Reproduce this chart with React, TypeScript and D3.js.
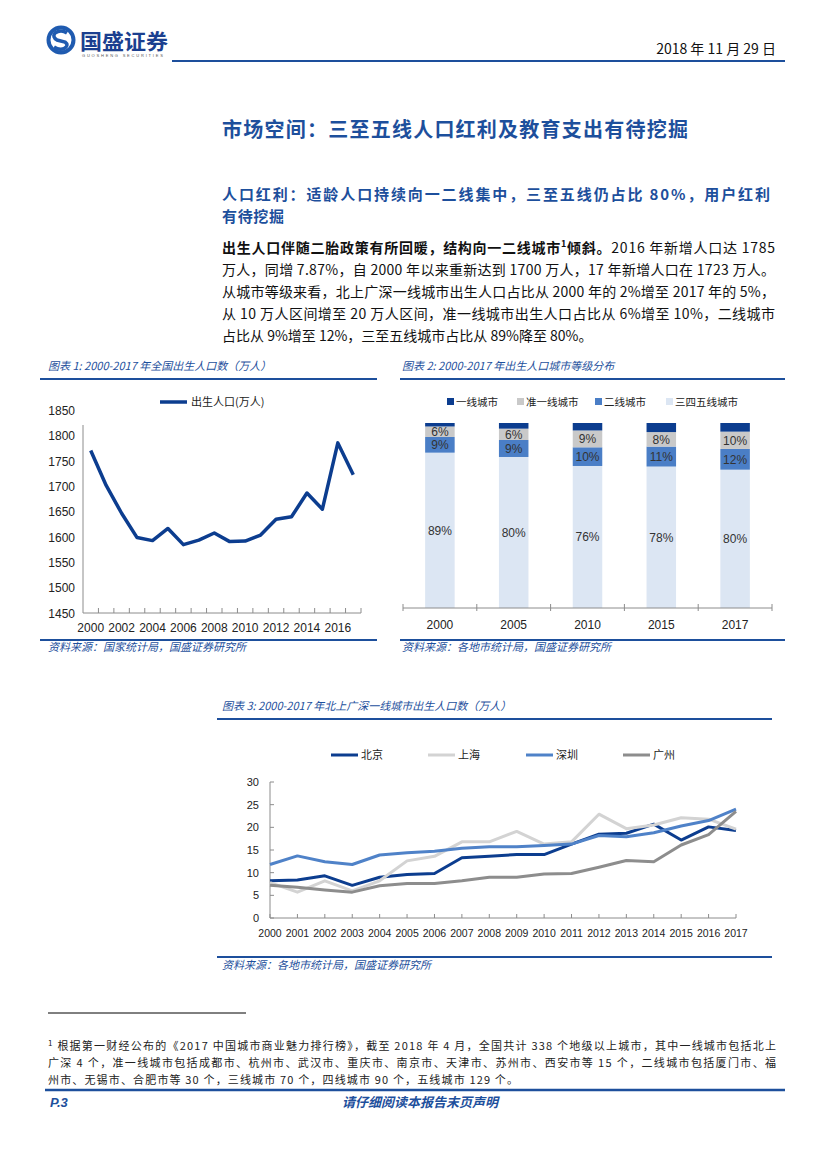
import * as d3 from 'd3';

// ---- data ----
const years = ['2000', '2001', '2002', '2003', '2004', '2005', '2006', '2007', '2008', '2009', '2010', '2011', '2012', '2013', '2014', '2015', '2016', '2017'];
const births = [1771, 1702, 1647, 1599, 1593, 1617, 1585, 1594, 1608, 1591, 1592, 1604, 1635, 1640, 1687, 1655, 1786, 1723];
const birthTicks = [1450, 1500, 1550, 1600, 1650, 1700, 1750, 1800, 1850];

const tierYears = ['2000', '2005', '2010', '2015', '2017'];
const tier1 = [2, 3, 4, 5, 5];
const tierQuasi = [6, 6, 9, 8, 10];
const tier2 = [9, 9, 10, 11, 12];
const tier345 = [89, 80, 76, 78, 80];
const tierNames = ['一线城市', '准一线城市', '二线城市', '三四五线城市'];

const beijing = [8.2, 8.4, 9.3, 7.2, 9.0, 9.6, 9.8, 13.3, 13.6, 14.0, 14.0, 16.3, 18.5, 18.7, 20.7, 17.2, 20.1, 19.3];
const shanghai = [7.8, 5.7, 8.2, 6.0, 8.2, 12.6, 13.6, 16.8, 16.8, 19.1, 16.3, 16.8, 22.9, 19.7, 20.5, 22.1, 21.8, 19.6];
const shenzhen = [11.8, 13.7, 12.4, 11.8, 13.9, 14.4, 14.7, 15.4, 15.7, 15.7, 16.0, 16.3, 18.2, 17.9, 18.8, 20.3, 21.5, 24.0];
const guangzhou = [7.2, 6.8, 6.2, 5.7, 7.1, 7.6, 7.6, 8.2, 9.0, 9.0, 9.7, 9.8, 11.2, 12.7, 12.4, 16.1, 18.4, 23.5];
const cityNames = ['北京', '上海', '深圳', '广州'];
const cityTicks = [0, 5, 10, 15, 20, 25, 30];

// ---- styles ----
const FONT = '"Liberation Sans", Arial, "Noto Sans CJK SC", sans-serif';
const CJK = '"Noto Sans CJK SC", "Liberation Sans", sans-serif';
const BLUE = '#1d4f9c';
const NAVY = '#0c3d8f';
const AXIS = '#8c8c8c';
const tierColors = ['#0c3d8f', '#c9c9c9', '#4a7ec6', '#dce6f3'];
const cityColors = ['#0c3d8f', '#d3d3d3', '#4f82c8', '#8d8d8d'];

function BirthChart() {
  const x = d3.scaleBand<string>().domain(years).range([83, 361]);
  const y = d3.scaleLinear().domain([1450, 1850]).range([613, 410.5]);
  const cx = (i: number) => x(years[i])! + x.bandwidth() / 2;
  const path = d3.line<number>().x((_, i) => cx(i)).y(d => y(d))(births)!;
  return (
    <g>
      <text x={48} y={370} fill={BLUE} fontSize={11} fontStyle="italic" fontFamily={CJK}>图表 1:  2000-2017 年全国出生人口数（万人）</text>
      <line x1={40} x2={377} y1={379} y2={379} stroke={BLUE} strokeWidth={2} />
      <line x1={160} x2={187} y1={402} y2={402} stroke={NAVY} strokeWidth={3.5} />
      <text x={191} y={406} fontSize={11} fontFamily={CJK} fill="#222">出生人口(万人)</text>
      {birthTicks.map(t => (
        <text key={t} x={75} y={y(t) + 4.5} textAnchor="end" fontSize={12} fontFamily={FONT} fill="#222">{t}</text>
      ))}
      <line x1={83} x2={83} y1={425} y2={613} stroke={AXIS} />
      <line x1={83} x2={361} y1={613} y2={613} stroke={AXIS} />
      {years.map((_, i) => (
        <line key={i} x1={83 + (i + 1) * x.step()} x2={83 + (i + 1) * x.step()} y1={613} y2={608} stroke={AXIS} />
      ))}
      {years.map((yr, i) => i % 2 === 0 ? (
        <text key={yr} x={cx(i)} y={632} textAnchor="middle" fontSize={12} fontFamily={FONT} fill="#222">{yr}</text>
      ) : null)}
      <path d={path} fill="none" stroke={NAVY} strokeWidth={3.5} strokeLinejoin="round" />
      <line x1={40} x2={377} y1={640} y2={640} stroke={BLUE} strokeWidth={2} />
      <text x={48} y={651} fill={BLUE} fontSize={11} fontStyle="italic" fontFamily={CJK}>资料来源：国家统计局，国盛证券研究所</text>
    </g>
  );
}

function TierChart() {
  const rows = tierYears.map((yr, i) => ({ year: yr, t345: tier345[i], t2: tier2[i], tq: tierQuasi[i], t1: tier1[i] }));
  const keys = ['t345', 't2', 'tq', 't1'];
  const stack = d3.stack<any>().keys(keys).offset(d3.stackOffsetExpand)(rows);
  const x = d3.scaleBand<string>().domain(tierYears).range([403, 772]).paddingInner(0.6).paddingOuter(0.3);
  const y = d3.scaleLinear().domain([0, 1]).range([608, 423]);
  const colorOf: Record<string, string> = { t1: tierColors[0], tq: tierColors[1], t2: tierColors[2], t345: tierColors[3] };
  const labelOf: Record<string, number[]> = { tq: tierQuasi, t2: tier2, t345: tier345 };
  const legendX = [447, 517, 595, 666];
  return (
    <g>
      <text x={402} y={370} fill={BLUE} fontSize={11} fontStyle="italic" fontFamily={CJK}>图表 2:  2000-2017 年出生人口城市等级分布</text>
      <line x1={400} x2={785} y1={379} y2={379} stroke={BLUE} strokeWidth={2} />
      {tierNames.map((n, i) => (
        <g key={n}>
          <rect x={legendX[i]} y={398} width={7} height={7} fill={tierColors[i]} />
          <text x={legendX[i] + 9} y={406} fontSize={10.5} fontFamily={CJK} fill="#222">{n}</text>
        </g>
      ))}
      {stack.map(s => (
        <g key={s.key}>
          {s.map((d, i) => {
            const y0 = y(d[0]);
            const y1 = y(d[1]);
            const lbl = labelOf[s.key];
            return (
              <g key={i}>
                <rect x={x(tierYears[i])} y={y1} width={x.bandwidth()} height={y0 - y1} fill={colorOf[s.key]} />
                {lbl ? (
                  <text x={x(tierYears[i])! + x.bandwidth() / 2} y={(y0 + y1) / 2 + 4.5} textAnchor="middle" fontSize={12} fontFamily={FONT} fill="#333">{lbl[i]}%</text>
                ) : null}
              </g>
            );
          })}
        </g>
      ))}
      <line x1={403} x2={772} y1={608} y2={608} stroke={AXIS} />
      {d3.range(tierYears.length + 1).map(i => (
        <line key={i} x1={403 + i * x.step()} x2={403 + i * x.step()} y1={604} y2={611} stroke={AXIS} />
      ))}
      {tierYears.map(yr => (
        <text key={yr} x={x(yr)! + x.bandwidth() / 2} y={629} textAnchor="middle" fontSize={12} fontFamily={FONT} fill="#222">{yr}</text>
      ))}
      <line x1={400} x2={785} y1={640} y2={640} stroke={BLUE} strokeWidth={2} />
      <text x={402} y={651} fill={BLUE} fontSize={11} fontStyle="italic" fontFamily={CJK}>资料来源：各地市统计局，国盛证券研究所</text>
    </g>
  );
}

function CityChart() {
  const x = d3.scalePoint<string>().domain(years).range([270, 736]);
  const y = d3.scaleLinear().domain([0, 30]).range([918, 782]);
  const line = d3.line<number>().x((_, i) => x(years[i])!).y(d => y(d));
  const series = [beijing, shanghai, shenzhen, guangzhou];
  const legendX = [331, 428, 526, 623];
  return (
    <g>
      <text x={222} y={710} fill={BLUE} fontSize={11} fontStyle="italic" fontFamily={CJK}>图表 3:  2000-2017 年北上广深一线城市出生人口数（万人）</text>
      <line x1={217} x2={772} y1={719} y2={719} stroke={BLUE} strokeWidth={2} />
      {cityNames.map((n, i) => (
        <g key={n}>
          <line x1={legendX[i]} x2={legendX[i] + 27} y1={755} y2={755} stroke={cityColors[i]} strokeWidth={3} />
          <text x={legendX[i] + 30} y={759} fontSize={11} fontFamily={CJK} fill="#222">{n}</text>
        </g>
      ))}
      <line x1={270} x2={270} y1={782} y2={918} stroke={AXIS} />
      <line x1={270} x2={736} y1={918} y2={918} stroke={AXIS} />
      {cityTicks.map(t => (
        <g key={t}>
          <line x1={270} x2={274} y1={y(t)} y2={y(t)} stroke={AXIS} />
          <text x={259} y={y(t) + 4} textAnchor="end" fontSize={11} fontFamily={FONT} fill="#222">{t}</text>
        </g>
      ))}
      {years.map(yr => (
        <g key={yr}>
          <line x1={x(yr)} x2={x(yr)} y1={918} y2={914} stroke={AXIS} />
          <text x={x(yr)} y={937} textAnchor="middle" fontSize={10.5} fontFamily={FONT} fill="#222">{yr}</text>
        </g>
      ))}
      {series.map((s, i) => (
        <path key={i} d={line(s)!} fill="none" stroke={cityColors[i]} strokeWidth={3} strokeLinejoin="round" />
      ))}
      <line x1={217} x2={772} y1={957} y2={957} stroke={BLUE} strokeWidth={2} />
      <text x={222} y={969} fill={BLUE} fontSize={11} fontStyle="italic" fontFamily={CJK}>资料来源：各地市统计局，国盛证券研究所</text>
    </g>
  );
}

function Header() {
  return (
    <g>
      <circle cx={61} cy={40} r={12.5} fill="none" stroke="#1f5bb0" strokeWidth={4} />
      <path d="M67,33 Q61,29 55,33 Q52,37 57,40 L65,42 Q69,45 65,48 Q60,51 54,47" fill="none" stroke="#1f5bb0" strokeWidth={3.5} />
      <text x={80} y={49} fontSize={21} fontWeight={700} fontFamily={CJK} fill="#1b3f8f" textLength={88} lengthAdjust="spacingAndGlyphs">国盛证券</text>
      <text x={82} y={57} fontSize={4} fontFamily={FONT} fill="#555" letterSpacing={1.8}>GUOSHENG SECURITIES</text>
      <text x={776} y={54} textAnchor="end" fontSize={14} fontFamily={CJK} fill="#111">2018 年 11 月 29 日</text>
      <line x1={172} x2={785} y1={61} y2={61} stroke={BLUE} strokeWidth={2} />
    </g>
  );
}

function Body() {
  const lines = [
    '万人，同增 7.87%，自 2000 年以来重新达到 1700 万人，17 年新增人口在 1723 万人。',
    '从城市等级来看，北上广深一线城市出生人口占比从 2000 年的 2%增至 2017 年的 5%，',
    '从 10 万人区间增至 20 万人区间，准一线城市出生人口占比从 6%增至 10%，二线城市',
  ];
  return (
    <g fontFamily={CJK}>
      <text x={455} y={137} textAnchor="middle" fontSize={20} fontWeight={700} fill={BLUE} textLength={466} lengthAdjust="spacing">市场空间：三至五线人口红利及教育支出有待挖掘</text>
      <text x={222} y={200} fontSize={15} fontWeight={700} fill={BLUE} textLength={548} lengthAdjust="spacing">人口红利：适龄人口持续向一二线集中，三至五线仍占比 80%，用户红利</text>
      <text x={222} y={222} fontSize={15} fontWeight={700} fill={BLUE} textLength={62} lengthAdjust="spacing">有待挖掘</text>
      <text x={222} y={253} fontSize={14} fill="#111" textLength={553} lengthAdjust="spacing">
        <tspan fontWeight={700}>出生人口伴随二胎政策有所回暖，结构向一二线城市</tspan>
        <tspan fontWeight={700} fontSize={9} dy={-6}>1</tspan>
        <tspan fontWeight={700} dy={6}>倾斜。</tspan>
        <tspan>2016 年新增人口达 1785</tspan>
      </text>
      {lines.map((l, i) => (
        <text key={i} x={222} y={275 + i * 22} fontSize={14} fill="#111" textLength={553} lengthAdjust="spacing">{l}</text>
      ))}
      <text x={222} y={341} fontSize={14} fill="#111">占比从 9%增至 12%，三至五线城市占比从 89%降至 80%。</text>
    </g>
  );
}

function Footer() {
  return (
    <g fontFamily={CJK}>
      <line x1={48} x2={246} y1={1013} y2={1013} stroke="#000" strokeWidth={1} />
      <text x={48} y={1050} fontSize={11} fill="#222" textLength={728} lengthAdjust="spacing">
        <tspan fontSize={8} dy={-4}>1</tspan>
        <tspan dy={4}> 根据第一财经公布的《2017 中国城市商业魅力排行榜》，截至 2018 年 4 月，全国共计 338 个地级以上城市，其中一线城市包括北上</tspan>
      </text>
      <text x={48} y={1067} fontSize={11} fill="#222" textLength={728} lengthAdjust="spacing">广深 4 个，准一线城市包括成都市、杭州市、武汉市、重庆市、南京市、天津市、苏州市、西安市等 15 个，二线城市包括厦门市、福</text>
      <text x={48} y={1084} fontSize={11} fill="#222" textLength={470} lengthAdjust="spacing">州市、无锡市、合肥市等 30 个，三线城市 70 个，四线城市 90 个，五线城市 129 个。</text>
      <line x1={45} x2={785} y1={1090} y2={1090} stroke={BLUE} strokeWidth={2.5} />
      <text x={50} y={1107} fontSize={13} fontWeight={700} fontStyle="italic" fill={BLUE} fontFamily={FONT}>P.3</text>
      <text x={420} y={1107} textAnchor="middle" fontSize={13} fontWeight={700} fontStyle="italic" fill={BLUE}>请仔细阅读本报告末页声明</text>
    </g>
  );
}

export default function App() {
  return (
    <svg width={827} height={1169} viewBox="0 0 827 1169" style={{ position: 'absolute', left: 0, top: 0, background: '#fff' }}>
      <rect width={827} height={1169} fill="#fff" />
      <Header />
      <Body />
      <BirthChart />
      <TierChart />
      <CityChart />
      <Footer />
    </svg>
  );
}
